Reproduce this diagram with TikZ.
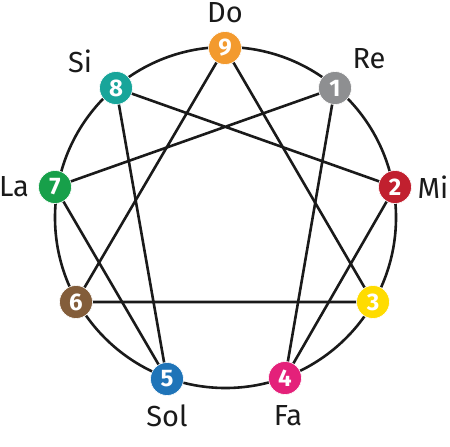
\documentclass[tikz,border=0pt]{standalone}
\usepackage{fontspec}
\setmainfont{Fira Sans}
\definecolor{c9}{HTML}{F39A2E}
\definecolor{c1}{HTML}{8E8F91}
\definecolor{c2}{HTML}{C1202F}
\definecolor{c3}{HTML}{FFDC00}
\definecolor{c4}{HTML}{E4217A}
\definecolor{c5}{HTML}{1F74B8}
\definecolor{c6}{HTML}{835D3A}
\definecolor{c7}{HTML}{17A04A}
\definecolor{c8}{HTML}{18A59A}
\definecolor{ink}{HTML}{1A1A1A}
\begin{document}
\begin{tikzpicture}[x=1pt,y=-1pt,
  pt/.style={circle, minimum size=33pt, inner sep=0pt, draw=white, line width=0.6pt, text=white, font=\fontsize{24}{24}\selectfont\bfseries},
  lab/.style={font=\fontsize{29}{29}\selectfont, text=ink},
  edge/.style={line width=2.6pt, ink}]
\useasboundingbox (0,0) rectangle (450,447);
\fill[white] (0,0) rectangle (450,447);
\coordinate (c) at (225.5,217.5);
\draw[edge] (c) circle[radius=170.5pt];
\coordinate (p9) at (225,48);
\coordinate (p1) at (335,88);
\coordinate (p2) at (395,187);
\coordinate (p3) at (373,302);
\coordinate (p4) at (285,378);
\coordinate (p5) at (167,379);
\coordinate (p6) at (76,302);
\coordinate (p7) at (55,187);
\coordinate (p8) at (116,88);
\draw[edge, line join=round] (p9) -- (p3) -- (p6) -- cycle;
\draw[edge, line join=round] (p1) -- (p4) -- (p2) -- (p8) -- (p5) -- (p7) -- cycle;
\node[pt, fill=c9] (n9) at (p9) {9};
\node[pt, fill=c1] (n1) at (p1) {1};
\node[pt, fill=c2] (n2) at (p2) {2};
\node[pt, fill=c3] (n3) at (p3) {3};
\node[pt, fill=c4] (n4) at (p4) {4};
\node[pt, fill=c5] (n5) at (p5) {5};
\node[pt, fill=c6] (n6) at (p6) {6};
\node[pt, fill=c7] (n7) at (p7) {7};
\node[pt, fill=c8] (n8) at (p8) {8};
\node[lab] (ldo) at (225,13) {Do};
\node[lab] (lsi) at (80,61) {Si};
\node[lab] (lre) at (369,59) {Re};
\node[lab] (lmi) at (433,187) {Mi};
\node[lab] (lla) at (14,187) {La};
\node[lab] (lsol) at (167,416) {Sol};
\node[lab] (lfa) at (288,416) {Fa};
\end{tikzpicture}
\end{document}
